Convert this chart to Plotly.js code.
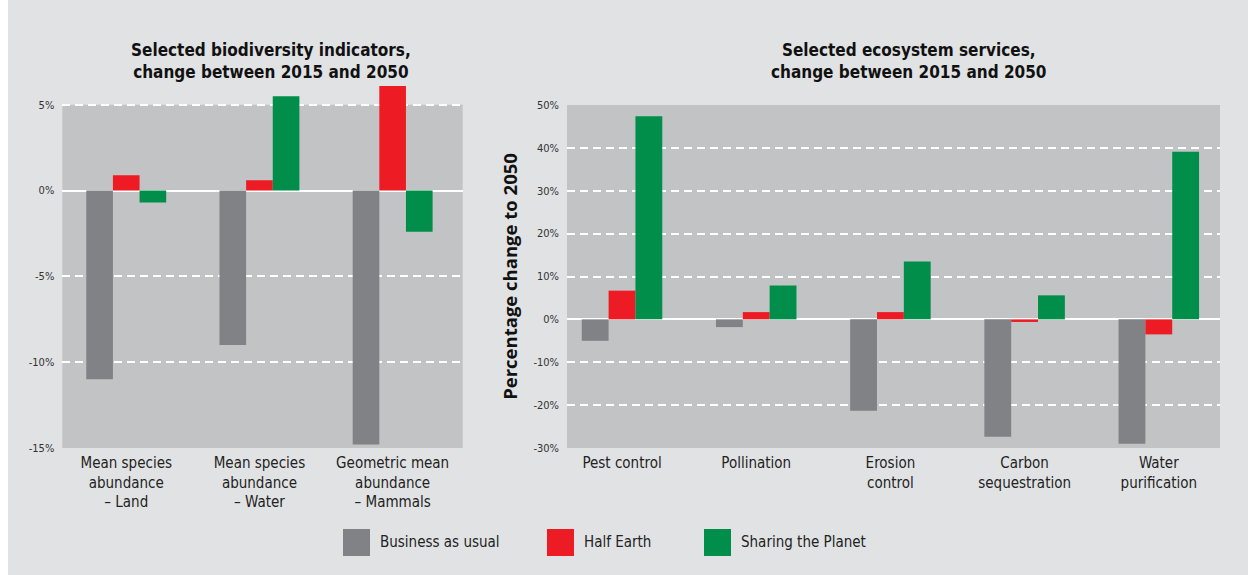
<!DOCTYPE html>
<html>
<head>
<meta charset="utf-8">
<script src="https://cdn.plot.ly/plotly-3.0.1.min.js"></script>
<style>
  html, body { margin: 0; padding: 0; background: #ffffff; }
  #chart { width: 1248px; height: 575px; }
</style>
</head>
<body>
<div id="chart"></div>
<script>
// ---------- data ----------
const seriesNames = ["Business as usual", "Half Earth", "Sharing the Planet"];
const seriesColors = ["#808285", "#ed1c24", "#008e4a"];

const bioCategories = [
  "Mean species<br>abundance<br>– Land",
  "Mean species<br>abundance<br>– Water",
  "Geometric mean<br>abundance<br>– Mammals"
];
const bioBAU = [-11.0, -9.0, -14.8];
const bioHalfEarth = [0.9, 0.6, 6.1];
const bioSharing = [-0.7, 5.5, -2.4];

const esCategories = [
  "Pest control",
  "Pollination",
  "Erosion<br>control",
  "Carbon<br>sequestration",
  "Water<br>purification"
];
const esBAU = [-5.0, -1.8, -21.3, -27.4, -29.0];
const esHalfEarth = [6.7, 1.7, 1.7, -0.6, -3.5];
const esSharing = [47.4, 7.9, 13.5, 5.6, 39.1];

const bioTickVals = [5, 0, -5, -10, -15];
const bioTickText = ["5%", "0%", "-5%", "-10%", "-15%"];
const esTickVals = [50, 40, 30, 20, 10, 0, -10, -20, -30];
const esTickText = ["50%", "40%", "30%", "20%", "10%", "0%", "-10%", "-20%", "-30%"];

const titleLeft = "Selected biodiversity indicators,<br>change between 2015 and 2050";
const titleRight = "Selected ecosystem services,<br>change between 2015 and 2050";
const yTitleRight = "Percentage change to 2050";

// ---------- helpers ----------
const W = 1248, H = 575;
const px = x => x / W;
const py = y => 1 - y / H;
const NARROW = "'Liberation Sans Narrow', 'DejaVu Sans Condensed', 'Arial Narrow', sans-serif";
const PLOT_BG = "#c2c3c5";

const bioSeries = [bioBAU, bioHalfEarth, bioSharing];
const esSeries = [esBAU, esHalfEarth, esSharing];

const traces = [];
seriesNames.forEach((name, i) => {
  traces.push({
    type: "bar", name: name, x: bioCategories, y: bioSeries[i],
    xaxis: "x", yaxis: "y",
    marker: { color: seriesColors[i], line: { width: 0 } },
    cliponaxis: false, showlegend: false, hoverinfo: "y"
  });
});
seriesNames.forEach((name, i) => {
  traces.push({
    type: "bar", name: name, x: esCategories, y: esSeries[i],
    xaxis: "x2", yaxis: "y2",
    marker: { color: seriesColors[i], line: { width: 0 } },
    cliponaxis: false, showlegend: false, hoverinfo: "y"
  });
});

const gridCommon = {
  showgrid: true, gridcolor: "#ffffff", gridwidth: 2, griddash: "8px,5px",
  zeroline: true, zerolinecolor: "#ffffff", zerolinewidth: 2,
  showline: false, ticks: "", ticklabelstandoff: 7,
  tickfont: { family: NARROW, size: 11, color: "#333333" },
  fixedrange: true
};
const xCommon = {
  type: "category", showgrid: false, zeroline: false, showline: false, ticks: "",
  tickfont: { family: NARROW, size: 15, color: "#222222" },
  ticklabelstandoff: 4,
  tickangle: 0, fixedrange: true
};

// legend built from series names/colours
const legendX = [343, 547, 704];
const shapes = [
  { type: "rect", xref: "paper", yref: "paper", x0: px(8), x1: 1, y0: 0, y1: 1,
    fillcolor: "#e1e2e4", line: { width: 0 }, layer: "below" },
  // grey plotting panels span only the labelled tick range
  { type: "rect", xref: "x domain", yref: "y", x0: 0, x1: 1, y0: bioTickVals[bioTickVals.length - 1], y1: bioTickVals[0],
    fillcolor: PLOT_BG, line: { width: 0 }, layer: "below" },
  { type: "rect", xref: "x2 domain", yref: "y2", x0: 0, x1: 1, y0: esTickVals[esTickVals.length - 1], y1: esTickVals[0],
    fillcolor: PLOT_BG, line: { width: 0 }, layer: "below" }
];
const annotations = [
  { xref: "paper", yref: "paper", x: px(271), y: py(61), xanchor: "center", yanchor: "middle",
    text: "<b>" + titleLeft.replace("<br>", "</b><br><b>") + "</b>", showarrow: false,
    font: { family: NARROW, size: 17, color: "#111111" } },
  { xref: "paper", yref: "paper", x: px(908), y: py(61), xanchor: "center", yanchor: "middle",
    text: "<b>" + titleRight.replace("<br>", "</b><br><b>") + "</b>", showarrow: false,
    font: { family: NARROW, size: 17, color: "#111111" } }
];
seriesNames.forEach((name, i) => {
  shapes.push({ type: "rect", xref: "paper", yref: "paper",
    x0: px(legendX[i]), x1: px(legendX[i] + 27), y0: py(556), y1: py(529),
    fillcolor: seriesColors[i], line: { width: 0 } });
  annotations.push({ xref: "paper", yref: "paper", x: px(legendX[i] + 35), y: py(542),
    xanchor: "left", yanchor: "middle", text: name, showarrow: false,
    font: { family: NARROW, size: 15, color: "#222222" } });
});

const layout = {
  width: W, height: H,
  margin: { l: 0, r: 0, t: 0, b: 0, pad: 0 },
  paper_bgcolor: "#ffffff",
  plot_bgcolor: "rgba(0,0,0,0)",
  barmode: "group", bargap: 0.4, bargroupgap: 0,
  showlegend: false,
  xaxis: Object.assign({}, xCommon, { domain: [px(62.3), px(462.7)], range: [-0.48, 2.526], anchor: "y" }),
  yaxis: Object.assign({}, gridCommon, { domain: [py(448), py(81.6)], range: [-15, 6.35], anchor: "x",
    tickmode: "array", tickvals: bioTickVals, ticktext: bioTickText }),
  xaxis2: Object.assign({}, xCommon, { domain: [px(567), px(1220)], range: [-0.41, 4.456], anchor: "y2" }),
  yaxis2: Object.assign({}, gridCommon, { domain: [py(448), py(105)], range: [-30, 50], anchor: "x2",
    tickmode: "array", tickvals: esTickVals, ticktext: esTickText,
    title: { text: "<b>" + yTitleRight + "</b>", standoff: 10,
      font: { family: "'Open Sans', sans-serif", size: 18.5, color: "#111111" } } }),
  shapes: shapes,
  annotations: annotations
};

Plotly.newPlot("chart", traces, layout, { displayModeBar: false, staticPlot: true });
</script>
</body>
</html>
